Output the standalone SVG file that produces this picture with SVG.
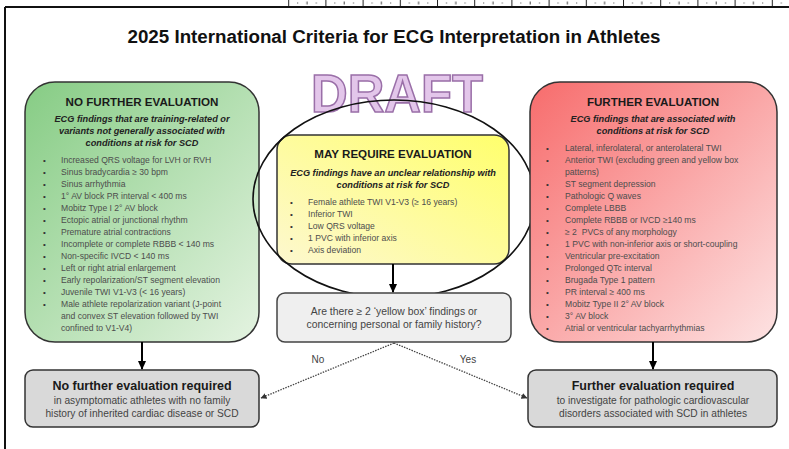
<svg xmlns="http://www.w3.org/2000/svg" width="789" height="449" viewBox="0 0 789 449">
<defs>
<linearGradient id="gGreen" x1="0" y1="0" x2="1" y2="1">
<stop offset="0" stop-color="#86cc84"/>
<stop offset="1" stop-color="#e4f3e1"/>
</linearGradient>
<linearGradient id="gRed" x1="0" y1="0" x2="1" y2="1">
<stop offset="0" stop-color="#f76c6c"/>
<stop offset="1" stop-color="#fde3e3"/>
</linearGradient>
<linearGradient id="gYellow" x1="1" y1="0" x2="0" y2="1">
<stop offset="0" stop-color="#ffff6c"/>
<stop offset="1" stop-color="#fdf8cf"/>
</linearGradient>
<pattern id="ruler" x="288.2" y="0" width="37.2" height="7" patternUnits="userSpaceOnUse">
<rect x="0" y="0" width="1" height="6" fill="#222"/>
<rect x="9" y="2.5" width="1" height="1" fill="#444"/>
<rect x="18.3" y="1.5" width="1" height="3" fill="#444"/>
<rect x="27.6" y="2.5" width="1" height="1" fill="#444"/>
</pattern>
<marker id="arrS" markerWidth="9" markerHeight="8" refX="8" refY="4" orient="auto" markerUnits="userSpaceOnUse">
<path d="M0,0 L9,4 L0,8 z" fill="#000"/>
</marker>
<marker id="arrD" markerWidth="6" markerHeight="6" refX="5.5" refY="3" orient="auto" markerUnits="userSpaceOnUse">
<path d="M0,0 L6,3 L0,6 z" fill="#333"/>
</marker>
</defs>
<style>
text { font-family: "Liberation Sans", Arial, sans-serif; }
.title { font-size: 18px; font-weight: bold; fill: #111; text-anchor: middle; }
.draft { font-size: 54px; font-weight: bold; fill: #e3c6ea; stroke: #9a6fa8; stroke-width: 1.6; text-anchor: middle; }
.hdr { font-size: 11.6px; font-weight: bold; fill: #1a1a1a; text-anchor: middle; }
.sub { font-size: 9.2px; font-weight: bold; font-style: italic; fill: #222; text-anchor: middle; }
.li { font-size: 8.6px; fill: #4d4d4d; }
.bul { font-size: 8px; fill: #333; }
.box { stroke: #333; stroke-width: 1.5; }
.obh { font-size: 12.5px; font-weight: bold; fill: #1a1a1a; text-anchor: middle; }
.obt { font-size: 10.2px; fill: #444; text-anchor: middle; }
.q { font-size: 10.4px; fill: #444; text-anchor: middle; }
.lbl { font-size: 10px; fill: #444; text-anchor: middle; }
.solid { stroke: #000; stroke-width: 2; fill: none; marker-end: url(#arrS); }
.dot { stroke: #444; stroke-width: 1.3; stroke-dasharray: 1.5 1.2; fill: none; marker-end: url(#arrD); }
</style>

<rect x="0" y="0" width="789" height="449" fill="#fff"/>
<g id="page-frame">
<rect x="288" y="0" width="501" height="6" fill="url(#ruler)"/>
<line x1="5" y1="7" x2="789" y2="7" stroke="#111" stroke-width="2"/>
<line x1="5" y1="7" x2="5" y2="449" stroke="#111" stroke-width="2"/>
</g>

<g id="title">
<text class="title" x="394" y="43" textLength="533" lengthAdjust="spacingAndGlyphs">2025 International Criteria for ECG Interpretation in Athletes</text>
</g>

<g id="draft">
<text class="draft" x="397" y="112" textLength="172" lengthAdjust="spacingAndGlyphs">DRAFT</text>
</g>

<g id="no-further-evaluation">
<rect class="box" x="25" y="82" width="234" height="260" rx="30" fill="url(#gGreen)"/>
<text class="hdr" x="142" y="106">NO FURTHER EVALUATION</text>
<text class="sub" x="142" y="122">ECG findings that are training-related or</text>
<text class="sub" x="142" y="134">variants not generally associated with</text>
<text class="sub" x="142" y="146">conditions at risk for SCD</text>
<g class="bul">
<text x="43" y="163">•</text><text x="43" y="175">•</text><text x="43" y="187">•</text><text x="43" y="199">•</text><text x="43" y="211">•</text><text x="43" y="223">•</text><text x="43" y="235">•</text><text x="43" y="247">•</text><text x="43" y="259">•</text><text x="43" y="271">•</text><text x="43" y="283">•</text><text x="43" y="295">•</text><text x="43" y="307">•</text>
</g>
<g class="li">
<text x="61" y="163">Increased QRS voltage for LVH or RVH</text>
<text x="61" y="175">Sinus bradycardia ≥ 30 bpm</text>
<text x="61" y="187">Sinus arrhythmia</text>
<text x="61" y="199">1° AV block PR interval &lt; 400 ms</text>
<text x="61" y="211">Mobitz Type I 2° AV block</text>
<text x="61" y="223">Ectopic atrial or junctional rhythm</text>
<text x="61" y="235">Premature atrial contractions</text>
<text x="61" y="247">Incomplete or complete RBBB &lt; 140 ms</text>
<text x="61" y="259">Non-specific IVCD &lt; 140 ms</text>
<text x="61" y="271">Left or right atrial enlargement</text>
<text x="61" y="283">Early repolarization/ST segment elevation</text>
<text x="61" y="295">Juvenile TWI V1-V3 (&lt; 16 years)</text>
<text x="61" y="307">Male athlete repolarization variant (J-point</text>
<text x="61" y="319">and convex ST elevation followed by TWI</text>
<text x="61" y="331">confined to V1-V4)</text>
</g>
</g>

<g id="may-require-evaluation">
<rect class="box" x="277" y="135" width="232" height="129" rx="15" fill="url(#gYellow)"/>
<text class="hdr" x="393" y="158">MAY REQUIRE EVALUATION</text>
<text class="sub" x="393" y="176">ECG findings have an unclear relationship with</text>
<text class="sub" x="393" y="188">conditions at risk for SCD</text>
<g class="bul">
<text x="290" y="205">•</text><text x="290" y="217">•</text><text x="290" y="229">•</text><text x="290" y="241">•</text><text x="290" y="253">•</text>
</g>
<g class="li">
<text x="308" y="205">Female athlete TWI V1-V3 (≥ 16 years)</text>
<text x="308" y="217">Inferior TWI</text>
<text x="308" y="229">Low QRS voltage</text>
<text x="308" y="241">1 PVC with inferior axis</text>
<text x="308" y="253">Axis deviation</text>
</g>
</g>

<g id="highlight-ellipse">
<ellipse cx="394" cy="199" rx="141" ry="99" fill="none" stroke="#111" stroke-width="1.6"/>
</g>

<g id="further-evaluation">
<rect class="box" x="530" y="82" width="247" height="260" rx="30" fill="url(#gRed)"/>
<text class="hdr" x="653" y="106">FURTHER EVALUATION</text>
<text class="sub" x="653" y="122">ECG findings that are associated with</text>
<text class="sub" x="653" y="134">conditions at risk for SCD</text>
<g class="bul">
<text x="546" y="151">•</text><text x="546" y="163">•</text><text x="546" y="187">•</text><text x="546" y="199">•</text><text x="546" y="211">•</text><text x="546" y="223">•</text><text x="546" y="235">•</text><text x="546" y="247">•</text><text x="546" y="259">•</text><text x="546" y="271">•</text><text x="546" y="283">•</text><text x="546" y="295">•</text><text x="546" y="307">•</text><text x="546" y="319">•</text><text x="546" y="331">•</text>
</g>
<g class="li">
<text x="565" y="151">Lateral, inferolateral, or anterolateral TWI</text>
<text x="565" y="163">Anterior TWI (excluding green and yellow box</text>
<text x="565" y="175">patterns)</text>
<text x="565" y="187">ST segment depression</text>
<text x="565" y="199">Pathologic Q waves</text>
<text x="565" y="211">Complete LBBB</text>
<text x="565" y="223">Complete RBBB or IVCD ≥140 ms</text>
<text x="565" y="235" xml:space="preserve">≥ 2  PVCs of any morphology</text>
<text x="565" y="247">1 PVC with non-inferior axis or short-coupling</text>
<text x="565" y="259">Ventricular pre-excitation</text>
<text x="565" y="271">Prolonged QTc interval</text>
<text x="565" y="283">Brugada Type 1 pattern</text>
<text x="565" y="295">PR interval ≥ 400 ms</text>
<text x="565" y="307">Mobitz Type II 2° AV block</text>
<text x="565" y="319">3° AV block</text>
<text x="565" y="331">Atrial or ventricular tachyarrhythmias</text>
</g>
</g>

<g id="question">
<rect x="277" y="293" width="234" height="49" rx="8" fill="#efefef" stroke="#444" stroke-width="1.5"/>
<text class="q" x="394" y="315">Are there ≥ 2 ‘yellow box’ findings or</text>
<text class="q" x="394" y="328">concerning personal or family history?</text>
</g>

<g id="no-further-required">
<rect class="box" x="25" y="370" width="234" height="57" rx="8" fill="#d9d9d9"/>
<text class="obh" x="142" y="390">No further evaluation required</text>
<text class="obt" x="142" y="404">in asymptomatic athletes with no family</text>
<text class="obt" x="142" y="417">history of inherited cardiac disease or SCD</text>
</g>

<g id="further-required">
<rect class="box" x="528" y="370" width="249" height="57" rx="8" fill="#d9d9d9"/>
<text class="obh" x="653" y="390">Further evaluation required</text>
<text class="obt" x="653" y="404">to investigate for pathologic cardiovascular</text>
<text class="obt" x="653" y="417">disorders associated with SCD in athletes</text>
</g>

<g id="connectors">
<line class="solid" x1="142" y1="342" x2="142" y2="369"/>
<line class="solid" x1="653" y1="342" x2="653" y2="369"/>
<line class="solid" x1="393" y1="264" x2="393" y2="292"/>
<line class="dot" x1="394" y1="343" x2="261" y2="398"/>
<line class="dot" x1="394" y1="343" x2="527" y2="398"/>
<text class="lbl" x="318" y="363">No</text>
<text class="lbl" x="468" y="363">Yes</text>
</g>
</svg>
